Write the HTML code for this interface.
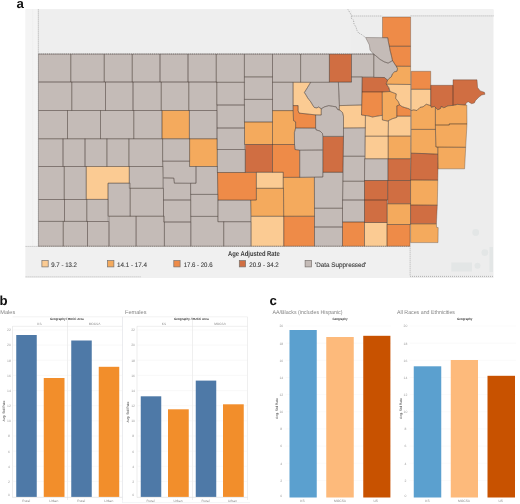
<!DOCTYPE html>
<html><head><meta charset="utf-8"><title>Figure</title>
<style>
html,body{margin:0;padding:0;background:#fff;}
body{width:520px;height:504px;overflow:hidden;font-family:"Liberation Sans",sans-serif;}
svg{display:block;font-family:"Liberation Sans",sans-serif;}
text{text-rendering:geometricPrecision;}
</style></head><body>
<svg width="520" height="504" viewBox="0 0 520 504">
<defs><filter id="idf" x="0" y="0" width="520" height="504" filterUnits="userSpaceOnUse"><feOffset dx="0" dy="0"/></filter></defs>
<rect width="520" height="504" fill="#fff"/>
<g filter="url(#idf)">
<g id="map">
<rect x="25.6" y="9.4" width="467.9" height="268.6" fill="#ededed"/>
<rect x="25.6" y="9.4" width="12.7" height="237" fill="#f4f4f4"/>
<rect x="38.3" y="9.4" width="313" height="44.6" fill="#eeeeee"/>
<rect x="352" y="9.4" width="141.5" height="6.6" fill="#f1f1f1"/>
<rect x="25.6" y="246.4" width="384.4" height="31.6" fill="#f0f0f0"/>

<path d="M38.50 54.00 L70.75 54.00 L70.75 82.00 L38.50 82.00Z" fill="#c4bbb7"/><path d="M70.75 54.00 L104.25 54.00 L104.25 82.00 L70.75 82.00Z" fill="#c4bbb7"/><path d="M104.25 54.00 L132.25 54.00 L132.25 82.00 L104.25 82.00Z" fill="#c4bbb7"/><path d="M132.25 54.00 L160.00 54.00 L160.00 82.00 L132.25 82.00Z" fill="#c4bbb7"/><path d="M160.00 54.00 L188.00 54.00 L188.00 82.00 L160.00 82.00Z" fill="#c4bbb7"/><path d="M188.00 54.00 L216.25 54.00 L216.25 82.00 L188.00 82.00Z" fill="#c4bbb7"/><path d="M216.25 54.00 L244.40 54.00 L244.40 82.30 L216.25 82.30Z" fill="#c4bbb7"/><path d="M244.40 54.00 L272.50 54.00 L272.50 76.90 L244.40 76.90Z" fill="#c4bbb7"/><path d="M272.50 54.00 L300.60 54.00 L300.60 82.25 L272.50 82.25Z" fill="#c4bbb7"/><path d="M300.60 54.00 L329.40 54.00 L329.40 82.25 L300.60 82.25Z" fill="#c4bbb7"/><path d="M329.40 54.00 L351.50 54.00 L351.50 82.10 L329.40 82.10Z" fill="#d06e42"/><path d="M351.50 54.00 L373.75 54.00 L373.75 76.90 L351.50 76.90Z" fill="#c4bbb7"/><path d="M38.50 82.00 L71.75 82.00 L71.75 110.50 L38.50 110.50Z" fill="#c4bbb7"/><path d="M71.75 82.00 L105.50 82.00 L105.50 110.50 L71.75 110.50Z" fill="#c4bbb7"/><path d="M105.50 82.00 L133.00 82.00 L133.00 110.50 L105.50 110.50Z" fill="#c4bbb7"/><path d="M133.00 82.00 L161.25 82.00 L161.25 110.50 L133.00 110.50Z" fill="#c4bbb7"/><path d="M161.25 82.00 L188.75 82.00 L188.75 110.50 L161.25 110.50Z" fill="#c4bbb7"/><path d="M188.75 82.00 L216.75 82.00 L216.75 110.50 L188.75 110.50Z" fill="#c4bbb7"/><path d="M216.75 82.30 L244.40 82.30 L244.40 105.00 L216.75 105.00Z" fill="#c4bbb7"/><path d="M244.40 76.90 L272.50 76.90 L272.50 99.40 L244.40 99.40Z" fill="#c4bbb7"/><path d="M272.50 82.25 L293.10 82.25 L293.10 110.60 L272.50 110.60Z" fill="#c4bbb7"/><path d="M38.50 110.50 L67.50 110.50 L67.50 138.75 L38.50 138.75Z" fill="#c4bbb7"/><path d="M67.50 110.50 L100.50 110.50 L100.50 138.75 L67.50 138.75Z" fill="#c4bbb7"/><path d="M100.50 110.50 L133.75 110.50 L133.75 138.75 L100.50 138.75Z" fill="#c4bbb7"/><path d="M133.75 110.50 L162.00 110.50 L162.00 138.75 L133.75 138.75Z" fill="#c4bbb7"/><path d="M162.00 110.50 L189.40 110.50 L189.40 138.75 L162.00 138.75Z" fill="#f4aa5d"/><path d="M189.40 110.50 L217.00 110.50 L217.00 138.75 L189.40 138.75Z" fill="#c4bbb7"/><path d="M217.00 105.00 L244.50 105.00 L244.50 128.00 L217.00 128.00Z" fill="#c4bbb7"/><path d="M244.40 99.40 L272.50 99.40 L272.50 122.00 L244.40 122.00Z" fill="#c4bbb7"/><path d="M244.50 122.00 L272.50 122.00 L272.50 144.50 L244.50 144.50Z" fill="#f4aa5d"/><path d="M272.50 110.60 L293.10 110.60 L293.50 120.60 L295.60 121.90 L295.60 128.00 L294.40 132.50 L294.50 144.50 L272.50 144.50Z" fill="#f4aa5d"/><path d="M38.50 138.75 L63.00 138.75 L63.00 166.50 L38.50 166.50Z" fill="#c4bbb7"/><path d="M63.00 138.75 L85.00 138.75 L85.00 166.50 L63.00 166.50Z" fill="#c4bbb7"/><path d="M85.00 138.75 L106.90 138.75 L106.90 166.50 L85.00 166.50Z" fill="#c4bbb7"/><path d="M106.90 138.75 L128.90 138.75 L128.90 166.50 L106.90 166.50Z" fill="#c4bbb7"/><path d="M128.90 138.75 L162.60 138.75 L162.60 166.50 L128.90 166.50Z" fill="#c4bbb7"/><path d="M162.60 138.75 L189.60 138.75 L189.60 161.20 L162.60 161.20Z" fill="#c4bbb7"/><path d="M189.60 138.75 L217.30 138.75 L217.30 166.50 L189.60 166.50Z" fill="#f4aa5d"/><path d="M217.00 128.00 L244.50 128.00 L244.50 149.50 L217.00 149.50Z" fill="#c4bbb7"/><path d="M217.30 149.50 L245.30 149.50 L245.30 172.50 L217.30 172.50Z" fill="#c4bbb7"/><path d="M245.30 144.50 L272.50 144.50 L272.50 172.30 L245.30 172.30Z" fill="#d06e42"/><path d="M38.50 166.50 L64.25 166.50 L64.25 199.50 L38.50 199.50Z" fill="#c4bbb7"/><path d="M64.25 166.50 L86.25 166.50 L86.25 199.50 L64.25 199.50Z" fill="#c4bbb7"/><path d="M86.25 166.50 L129.30 166.50 L129.30 183.20 L108.00 183.20 L108.00 199.40 L86.25 199.40Z" fill="#fbcb93"/><path d="M129.30 166.50 L162.90 166.50 L162.90 188.30 L129.30 188.30Z" fill="#c4bbb7"/><path d="M162.70 161.20 L189.50 161.20 L189.50 166.50 L196.00 166.50 L196.00 183.20 L174.40 183.20 L173.80 178.10 L163.40 177.90Z" fill="#c4bbb7"/><path d="M196.00 166.50 L217.50 166.50 L217.70 194.40 L190.60 194.40 L190.60 183.30 L196.00 183.30Z" fill="#c4bbb7"/><path d="M217.50 172.50 L256.40 172.50 L256.40 200.00 L250.70 200.20 L217.90 200.10Z" fill="#ee8b48"/><path d="M256.40 172.30 L283.25 172.30 L283.25 188.30 L256.40 188.30Z" fill="#fbcb93"/><path d="M38.50 199.50 L64.50 199.50 L64.50 221.40 L38.50 221.40Z" fill="#c4bbb7"/><path d="M64.50 199.50 L86.75 199.50 L86.75 221.40 L64.50 221.40Z" fill="#c4bbb7"/><path d="M86.75 199.40 L108.20 199.40 L108.20 221.50 L86.75 221.50Z" fill="#c4bbb7"/><path d="M108.00 183.20 L130.20 183.20 L130.20 216.25 L108.00 216.25Z" fill="#c4bbb7"/><path d="M130.20 188.30 L163.50 188.30 L163.50 216.25 L130.20 216.25Z" fill="#c4bbb7"/><path d="M163.40 177.90 L173.80 178.10 L174.40 183.20 L190.60 183.40 L190.60 200.00 L163.50 200.00Z" fill="#c4bbb7"/><path d="M163.50 200.00 L190.70 200.00 L190.70 222.00 L163.50 222.00Z" fill="#c4bbb7"/><path d="M190.70 194.40 L217.90 194.40 L217.90 216.40 L190.70 216.40Z" fill="#c4bbb7"/><path d="M217.90 200.10 L250.70 200.10 L250.70 221.70 L217.90 221.70Z" fill="#c4bbb7"/><path d="M256.40 188.30 L283.50 188.30 L283.70 216.30 L251.20 216.30 L250.70 200.20 L256.40 200.00Z" fill="#f4aa5d"/><path d="M38.50 221.40 L63.25 221.40 L63.25 246.25 L38.50 246.25Z" fill="#c4bbb7"/><path d="M63.25 221.40 L87.50 221.40 L87.50 246.25 L63.25 246.25Z" fill="#c4bbb7"/><path d="M87.50 221.50 L109.00 221.50 L109.00 246.25 L87.50 246.25Z" fill="#c4bbb7"/><path d="M109.00 216.25 L136.10 216.25 L136.10 246.25 L109.00 246.25Z" fill="#c4bbb7"/><path d="M136.10 216.25 L164.40 216.25 L164.40 246.25 L136.10 246.25Z" fill="#c4bbb7"/><path d="M164.40 222.00 L190.80 222.00 L190.80 246.25 L164.40 246.25Z" fill="#c4bbb7"/><path d="M190.80 216.40 L217.90 216.40 L217.90 221.70 L223.70 221.70 L223.70 246.25 L190.80 246.25Z" fill="#c4bbb7"/><path d="M223.70 221.70 L251.00 221.70 L251.00 246.25 L223.70 246.25Z" fill="#c4bbb7"/><path d="M251.20 216.30 L283.75 216.30 L283.75 246.25 L251.20 246.25Z" fill="#fbcb93"/><path d="M283.75 216.25 L314.50 216.25 L314.50 246.25 L283.75 246.25Z" fill="#ee8b48"/><path d="M314.50 227.00 L342.50 227.00 L342.50 246.25 L314.50 246.25Z" fill="#c4bbb7"/><path d="M342.50 222.00 L364.50 222.00 L364.50 246.25 L342.50 246.25Z" fill="#ee8b48"/><path d="M364.50 222.50 L387.00 222.50 L387.00 246.25 L364.50 246.25Z" fill="#fbcb93"/><path d="M387.00 224.50 L410.00 224.50 L410.00 246.25 L387.00 246.25Z" fill="#ee8b48"/><path d="M272.50 144.50 L294.50 144.50 L295.00 149.50 L299.70 150.20 L299.70 177.40 L283.25 177.40 L283.25 172.30 L272.50 172.30Z" fill="#ee8b48"/><path d="M283.25 177.40 L314.40 177.20 L314.50 216.25 L283.70 216.30 L283.50 188.30 L283.25 188.30Z" fill="#f4aa5d"/><path d="M314.40 177.20 L322.80 177.00 L322.90 172.30 L342.90 172.30 L342.50 208.25 L314.50 208.25Z" fill="#c4bbb7"/><path d="M314.50 208.25 L342.50 208.25 L342.50 227.00 L314.50 227.00Z" fill="#c4bbb7"/><path d="M342.90 181.25 L364.50 181.25 L364.50 200.00 L342.60 200.00Z" fill="#c4bbb7"/><path d="M342.50 200.00 L364.50 200.00 L364.50 222.00 L342.50 222.00Z" fill="#c4bbb7"/><path d="M343.30 156.25 L364.80 156.25 L364.50 181.25 L342.90 181.25Z" fill="#c4bbb7"/><path d="M343.50 128.00 L365.40 127.80 L365.20 136.20 L364.80 156.25 L343.30 156.25Z" fill="#c4bbb7"/><path d="M323.00 136.40 L343.50 136.40 L342.90 172.30 L322.90 172.30Z" fill="#d06e42"/><path d="M299.70 150.20 L322.60 150.00 L322.80 177.00 L299.70 177.40Z" fill="#c4bbb7"/><path d="M295.60 128.00 L315.60 128.10 L316.25 130.00 L320.00 131.00 L322.50 133.50 L322.60 150.00 L299.70 150.20 L295.00 149.50 L294.50 144.50 L294.40 132.50Z" fill="#c4bbb7"/><path d="M321.25 108.75 L324.40 106.90 L328.75 105.60 L332.50 106.25 L336.25 106.90 L337.50 109.40 L340.00 110.20 L342.50 112.50 L343.50 116.25 L343.50 136.40 L323.00 136.40 L322.50 133.50 L320.00 131.00 L316.25 130.00 L315.60 128.10 L315.60 114.90 L321.25 115.00Z" fill="#c4bbb7"/><path d="M364.50 158.75 L387.70 158.75 L387.70 180.50 L364.50 180.50Z" fill="#c4bbb7"/><path d="M365.20 136.20 L388.20 136.20 L388.20 158.75 L365.20 158.75Z" fill="#fbcb93"/><path d="M364.50 180.50 L387.60 180.50 L387.60 200.00 L364.50 200.00Z" fill="#d06e42"/><path d="M364.50 200.00 L387.10 200.00 L387.10 222.50 L364.50 222.50Z" fill="#d06e42"/><path d="M387.70 180.50 L410.50 180.50 L410.50 203.75 L387.70 203.75Z" fill="#d06e42"/><path d="M388.00 158.70 L410.50 158.70 L410.50 180.50 L388.00 180.50Z" fill="#d06e42"/><path d="M388.20 136.10 L410.60 136.10 L410.60 158.70 L388.20 158.70Z" fill="#f4aa5d"/><path d="M387.30 203.75 L410.50 203.75 L410.50 224.50 L387.30 224.50Z" fill="#f4aa5d"/><path d="M293.10 82.25 L310.60 82.40 L307.50 87.50 L304.40 92.50 L306.30 95.50 L308.10 98.75 L310.00 100.60 L313.10 105.80 L314.40 107.50 L316.90 107.90 L318.50 107.00 L321.25 108.75 L321.25 115.00 L315.60 114.90 L299.00 113.10 L298.10 110.60 L298.10 105.60 L293.10 105.60Z" fill="#fbcb93"/><path d="M293.10 105.60 L298.10 105.60 L298.10 110.60 L299.00 113.10 L315.60 114.90 L315.60 128.10 L295.60 128.00 L295.60 121.90 L293.50 120.60Z" fill="#ee8b48"/><path d="M310.60 82.40 L338.40 82.25 L339.40 105.60 L339.20 110.00 L337.50 109.40 L336.25 106.90 L332.50 106.25 L328.75 105.60 L324.40 106.90 L321.25 108.75 L318.50 107.00 L316.90 107.90 L314.40 107.50 L313.10 105.80 L310.00 100.60 L308.10 98.75 L306.30 95.50 L304.40 92.50 L307.50 87.50 L310.60 82.40Z" fill="#c4bbb7"/><path d="M338.40 82.25 L351.50 82.10 L351.50 76.90 L362.20 76.90 L362.00 91.90 L361.70 105.00 L339.40 105.60Z" fill="#c4bbb7"/><path d="M339.40 105.60 L361.70 105.00 L361.50 115.00 L365.40 115.60 L365.40 127.80 L343.50 128.00 L343.50 116.25 L342.50 112.50 L340.00 110.20 L339.20 110.00Z" fill="#fbcb93"/><path d="M373.75 54.40 L375.60 55.60 L380.00 59.40 L384.40 61.90 L388.10 63.10 L391.20 61.40 L392.50 60.50 L393.75 62.50 L396.25 66.25 L397.50 68.75 L396.90 71.25 L394.40 71.90 L392.50 73.75 L391.25 76.90 L388.75 78.75 L387.60 80.20 L384.40 77.50 L373.75 77.30Z" fill="#c4bbb7"/><path d="M362.20 77.30 L384.40 77.50 L387.60 80.20 L386.25 83.75 L388.75 87.50 L390.00 91.50 L382.20 91.90 L362.00 91.90Z" fill="#d06e42"/><path d="M362.00 91.90 L382.20 91.90 L382.30 115.30 L378.00 116.00 L372.50 117.00 L368.00 115.80 L361.50 115.00Z" fill="#ee8b48"/><path d="M382.20 91.90 L390.00 91.50 L393.00 92.60 L396.25 93.90 L395.60 98.25 L398.40 101.80 L399.60 104.80 L396.80 105.90 L396.80 117.40 L392.50 118.70 L387.50 121.00 L382.40 120.00Z" fill="#f4aa5d"/><path d="M396.80 105.90 L399.60 104.80 L402.00 106.60 L405.00 107.60 L409.40 108.90 L410.60 110.30 L410.60 116.20 L396.80 116.20Z" fill="#ee8b48"/><path d="M365.40 115.60 L368.00 115.80 L372.50 117.00 L378.00 116.00 L382.30 115.30 L382.40 120.00 L387.50 121.00 L388.40 120.80 L388.20 136.20 L365.20 136.20Z" fill="#fbcb93"/><path d="M388.40 120.80 L392.50 118.70 L396.80 117.40 L396.80 116.20 L410.60 116.20 L410.60 136.10 L388.20 136.10Z" fill="#fbcb93"/><path d="M365.60 37.50 L387.75 37.75 L388.50 42.50 L389.40 46.25 L390.00 50.00 L391.25 55.00 L392.50 60.50 L391.20 61.40 L388.10 63.10 L384.40 61.90 L380.00 59.40 L375.60 55.60 L373.75 54.40 L372.50 53.10 L370.00 50.00 L369.40 45.00 L367.50 41.25Z" fill="#c4bbb7"/><path d="M382.50 17.00 L410.60 17.00 L410.60 46.25 L389.40 46.25 L388.50 42.50 L387.75 37.75 L382.50 37.60Z" fill="#ee8b48"/><path d="M389.40 46.25 L410.60 46.25 L410.60 66.30 L396.25 66.25 L393.75 62.50 L392.50 60.50 L391.25 55.00 L390.00 50.00Z" fill="#ee8b48"/><path d="M396.25 66.25 L410.60 66.30 L410.60 84.50 L386.40 84.20 L386.25 83.75 L387.60 80.20 L388.75 78.75 L391.25 76.90 L392.50 73.75 L394.40 71.90 L396.90 71.25 L397.50 68.75Z" fill="#f4aa5d"/><path d="M386.40 84.20 L410.60 84.50 L410.60 110.30 L409.40 108.90 L405.00 107.60 L402.00 106.60 L399.60 104.80 L398.40 101.80 L395.60 98.25 L396.25 93.90 L393.00 92.60 L390.00 91.50 L388.75 87.50Z" fill="#fbcb93"/><path d="M411.30 71.30 L430.70 71.30 L430.70 89.30 L411.30 89.30Z" fill="#ee8b48"/><path d="M411.30 89.30 L430.70 89.30 L430.70 105.60 L426.25 104.25 L423.10 106.75 L420.00 107.40 L416.90 110.50 L413.75 109.90 L411.30 110.50Z" fill="#fbcb93"/><path d="M430.70 85.30 L453.00 85.30 L453.00 105.40 L447.90 105.80 L443.90 107.80 L441.20 106.40 L440.50 108.50 L437.80 109.80 L434.40 106.40 L431.40 107.40 L430.70 105.60Z" fill="#d06e42"/><path d="M453.00 79.80 L477.00 79.80 L477.60 87.50 L480.30 90.90 L484.40 92.30 L485.00 94.30 L481.70 95.00 L479.00 97.00 L475.60 100.40 L474.30 103.00 L471.60 103.70 L468.20 101.70 L466.20 103.00 L465.50 105.00 L457.40 104.40 L453.00 105.40Z" fill="#d06e42"/><path d="M411.30 110.50 L413.75 109.90 L416.90 110.50 L420.00 107.40 L423.10 106.75 L426.25 104.25 L430.70 105.60 L431.40 107.40 L434.40 106.40 L435.40 107.50 L435.40 129.40 L411.30 129.40Z" fill="#f4aa5d"/><path d="M435.40 107.50 L437.80 109.80 L440.50 108.50 L441.20 106.40 L443.90 107.80 L447.90 105.80 L453.00 105.40 L457.40 104.40 L465.50 105.00 L466.80 105.00 L467.00 123.90 L449.30 123.90 L449.30 125.00 L435.40 125.00Z" fill="#f4aa5d"/><path d="M435.40 125.00 L449.30 125.00 L449.30 123.90 L467.00 123.90 L465.70 147.30 L437.80 147.10 L435.90 147.00Z" fill="#f4aa5d"/><path d="M437.80 147.10 L465.70 147.30 L464.60 168.80 L438.00 168.80Z" fill="#f4aa5d"/><path d="M411.30 129.40 L435.40 129.40 L435.90 147.00 L437.80 147.10 L437.80 154.20 L425.00 153.60 L411.10 153.20Z" fill="#f4aa5d"/><path d="M411.10 153.20 L425.00 153.60 L437.80 154.20 L438.00 168.80 L437.80 180.20 L410.60 180.00Z" fill="#d06e42"/><path d="M410.60 180.00 L437.80 180.20 L437.30 205.20 L410.60 205.00Z" fill="#f4aa5d"/><path d="M410.60 205.00 L437.30 205.20 L436.40 223.80 L410.60 223.80Z" fill="#d06e42"/><path d="M410.60 223.80 L436.40 223.80 L436.60 227.40 L438.20 227.60 L438.00 242.60 L410.60 242.60Z" fill="#f4aa5d"/>
<g fill="none" stroke="#3c2f2a" stroke-opacity="0.42" stroke-width="0.75" stroke-linejoin="round"><path d="M38.50 54.00 L70.75 54.00 L70.75 82.00 L38.50 82.00Z"/><path d="M70.75 54.00 L104.25 54.00 L104.25 82.00 L70.75 82.00Z"/><path d="M104.25 54.00 L132.25 54.00 L132.25 82.00 L104.25 82.00Z"/><path d="M132.25 54.00 L160.00 54.00 L160.00 82.00 L132.25 82.00Z"/><path d="M160.00 54.00 L188.00 54.00 L188.00 82.00 L160.00 82.00Z"/><path d="M188.00 54.00 L216.25 54.00 L216.25 82.00 L188.00 82.00Z"/><path d="M216.25 54.00 L244.40 54.00 L244.40 82.30 L216.25 82.30Z"/><path d="M244.40 54.00 L272.50 54.00 L272.50 76.90 L244.40 76.90Z"/><path d="M272.50 54.00 L300.60 54.00 L300.60 82.25 L272.50 82.25Z"/><path d="M300.60 54.00 L329.40 54.00 L329.40 82.25 L300.60 82.25Z"/><path d="M329.40 54.00 L351.50 54.00 L351.50 82.10 L329.40 82.10Z"/><path d="M351.50 54.00 L373.75 54.00 L373.75 76.90 L351.50 76.90Z"/><path d="M38.50 82.00 L71.75 82.00 L71.75 110.50 L38.50 110.50Z"/><path d="M71.75 82.00 L105.50 82.00 L105.50 110.50 L71.75 110.50Z"/><path d="M105.50 82.00 L133.00 82.00 L133.00 110.50 L105.50 110.50Z"/><path d="M133.00 82.00 L161.25 82.00 L161.25 110.50 L133.00 110.50Z"/><path d="M161.25 82.00 L188.75 82.00 L188.75 110.50 L161.25 110.50Z"/><path d="M188.75 82.00 L216.75 82.00 L216.75 110.50 L188.75 110.50Z"/><path d="M216.75 82.30 L244.40 82.30 L244.40 105.00 L216.75 105.00Z"/><path d="M244.40 76.90 L272.50 76.90 L272.50 99.40 L244.40 99.40Z"/><path d="M272.50 82.25 L293.10 82.25 L293.10 110.60 L272.50 110.60Z"/><path d="M38.50 110.50 L67.50 110.50 L67.50 138.75 L38.50 138.75Z"/><path d="M67.50 110.50 L100.50 110.50 L100.50 138.75 L67.50 138.75Z"/><path d="M100.50 110.50 L133.75 110.50 L133.75 138.75 L100.50 138.75Z"/><path d="M133.75 110.50 L162.00 110.50 L162.00 138.75 L133.75 138.75Z"/><path d="M162.00 110.50 L189.40 110.50 L189.40 138.75 L162.00 138.75Z"/><path d="M189.40 110.50 L217.00 110.50 L217.00 138.75 L189.40 138.75Z"/><path d="M217.00 105.00 L244.50 105.00 L244.50 128.00 L217.00 128.00Z"/><path d="M244.40 99.40 L272.50 99.40 L272.50 122.00 L244.40 122.00Z"/><path d="M244.50 122.00 L272.50 122.00 L272.50 144.50 L244.50 144.50Z"/><path d="M272.50 110.60 L293.10 110.60 L293.50 120.60 L295.60 121.90 L295.60 128.00 L294.40 132.50 L294.50 144.50 L272.50 144.50Z"/><path d="M38.50 138.75 L63.00 138.75 L63.00 166.50 L38.50 166.50Z"/><path d="M63.00 138.75 L85.00 138.75 L85.00 166.50 L63.00 166.50Z"/><path d="M85.00 138.75 L106.90 138.75 L106.90 166.50 L85.00 166.50Z"/><path d="M106.90 138.75 L128.90 138.75 L128.90 166.50 L106.90 166.50Z"/><path d="M128.90 138.75 L162.60 138.75 L162.60 166.50 L128.90 166.50Z"/><path d="M162.60 138.75 L189.60 138.75 L189.60 161.20 L162.60 161.20Z"/><path d="M189.60 138.75 L217.30 138.75 L217.30 166.50 L189.60 166.50Z"/><path d="M217.00 128.00 L244.50 128.00 L244.50 149.50 L217.00 149.50Z"/><path d="M217.30 149.50 L245.30 149.50 L245.30 172.50 L217.30 172.50Z"/><path d="M245.30 144.50 L272.50 144.50 L272.50 172.30 L245.30 172.30Z"/><path d="M38.50 166.50 L64.25 166.50 L64.25 199.50 L38.50 199.50Z"/><path d="M64.25 166.50 L86.25 166.50 L86.25 199.50 L64.25 199.50Z"/><path d="M86.25 166.50 L129.30 166.50 L129.30 183.20 L108.00 183.20 L108.00 199.40 L86.25 199.40Z"/><path d="M129.30 166.50 L162.90 166.50 L162.90 188.30 L129.30 188.30Z"/><path d="M162.70 161.20 L189.50 161.20 L189.50 166.50 L196.00 166.50 L196.00 183.20 L174.40 183.20 L173.80 178.10 L163.40 177.90Z"/><path d="M196.00 166.50 L217.50 166.50 L217.70 194.40 L190.60 194.40 L190.60 183.30 L196.00 183.30Z"/><path d="M217.50 172.50 L256.40 172.50 L256.40 200.00 L250.70 200.20 L217.90 200.10Z"/><path d="M256.40 172.30 L283.25 172.30 L283.25 188.30 L256.40 188.30Z"/><path d="M38.50 199.50 L64.50 199.50 L64.50 221.40 L38.50 221.40Z"/><path d="M64.50 199.50 L86.75 199.50 L86.75 221.40 L64.50 221.40Z"/><path d="M86.75 199.40 L108.20 199.40 L108.20 221.50 L86.75 221.50Z"/><path d="M108.00 183.20 L130.20 183.20 L130.20 216.25 L108.00 216.25Z"/><path d="M130.20 188.30 L163.50 188.30 L163.50 216.25 L130.20 216.25Z"/><path d="M163.40 177.90 L173.80 178.10 L174.40 183.20 L190.60 183.40 L190.60 200.00 L163.50 200.00Z"/><path d="M163.50 200.00 L190.70 200.00 L190.70 222.00 L163.50 222.00Z"/><path d="M190.70 194.40 L217.90 194.40 L217.90 216.40 L190.70 216.40Z"/><path d="M217.90 200.10 L250.70 200.10 L250.70 221.70 L217.90 221.70Z"/><path d="M256.40 188.30 L283.50 188.30 L283.70 216.30 L251.20 216.30 L250.70 200.20 L256.40 200.00Z"/><path d="M38.50 221.40 L63.25 221.40 L63.25 246.25 L38.50 246.25Z"/><path d="M63.25 221.40 L87.50 221.40 L87.50 246.25 L63.25 246.25Z"/><path d="M87.50 221.50 L109.00 221.50 L109.00 246.25 L87.50 246.25Z"/><path d="M109.00 216.25 L136.10 216.25 L136.10 246.25 L109.00 246.25Z"/><path d="M136.10 216.25 L164.40 216.25 L164.40 246.25 L136.10 246.25Z"/><path d="M164.40 222.00 L190.80 222.00 L190.80 246.25 L164.40 246.25Z"/><path d="M190.80 216.40 L217.90 216.40 L217.90 221.70 L223.70 221.70 L223.70 246.25 L190.80 246.25Z"/><path d="M223.70 221.70 L251.00 221.70 L251.00 246.25 L223.70 246.25Z"/><path d="M251.20 216.30 L283.75 216.30 L283.75 246.25 L251.20 246.25Z"/><path d="M283.75 216.25 L314.50 216.25 L314.50 246.25 L283.75 246.25Z"/><path d="M314.50 227.00 L342.50 227.00 L342.50 246.25 L314.50 246.25Z"/><path d="M342.50 222.00 L364.50 222.00 L364.50 246.25 L342.50 246.25Z"/><path d="M364.50 222.50 L387.00 222.50 L387.00 246.25 L364.50 246.25Z"/><path d="M387.00 224.50 L410.00 224.50 L410.00 246.25 L387.00 246.25Z"/><path d="M272.50 144.50 L294.50 144.50 L295.00 149.50 L299.70 150.20 L299.70 177.40 L283.25 177.40 L283.25 172.30 L272.50 172.30Z"/><path d="M283.25 177.40 L314.40 177.20 L314.50 216.25 L283.70 216.30 L283.50 188.30 L283.25 188.30Z"/><path d="M314.40 177.20 L322.80 177.00 L322.90 172.30 L342.90 172.30 L342.50 208.25 L314.50 208.25Z"/><path d="M314.50 208.25 L342.50 208.25 L342.50 227.00 L314.50 227.00Z"/><path d="M342.90 181.25 L364.50 181.25 L364.50 200.00 L342.60 200.00Z"/><path d="M342.50 200.00 L364.50 200.00 L364.50 222.00 L342.50 222.00Z"/><path d="M343.30 156.25 L364.80 156.25 L364.50 181.25 L342.90 181.25Z"/><path d="M343.50 128.00 L365.40 127.80 L365.20 136.20 L364.80 156.25 L343.30 156.25Z"/><path d="M323.00 136.40 L343.50 136.40 L342.90 172.30 L322.90 172.30Z"/><path d="M299.70 150.20 L322.60 150.00 L322.80 177.00 L299.70 177.40Z"/><path d="M295.60 128.00 L315.60 128.10 L316.25 130.00 L320.00 131.00 L322.50 133.50 L322.60 150.00 L299.70 150.20 L295.00 149.50 L294.50 144.50 L294.40 132.50Z"/><path d="M321.25 108.75 L324.40 106.90 L328.75 105.60 L332.50 106.25 L336.25 106.90 L337.50 109.40 L340.00 110.20 L342.50 112.50 L343.50 116.25 L343.50 136.40 L323.00 136.40 L322.50 133.50 L320.00 131.00 L316.25 130.00 L315.60 128.10 L315.60 114.90 L321.25 115.00Z"/><path d="M364.50 158.75 L387.70 158.75 L387.70 180.50 L364.50 180.50Z"/><path d="M365.20 136.20 L388.20 136.20 L388.20 158.75 L365.20 158.75Z"/><path d="M364.50 180.50 L387.60 180.50 L387.60 200.00 L364.50 200.00Z"/><path d="M364.50 200.00 L387.10 200.00 L387.10 222.50 L364.50 222.50Z"/><path d="M387.70 180.50 L410.50 180.50 L410.50 203.75 L387.70 203.75Z"/><path d="M388.00 158.70 L410.50 158.70 L410.50 180.50 L388.00 180.50Z"/><path d="M388.20 136.10 L410.60 136.10 L410.60 158.70 L388.20 158.70Z"/><path d="M387.30 203.75 L410.50 203.75 L410.50 224.50 L387.30 224.50Z"/><path d="M293.10 82.25 L310.60 82.40 L307.50 87.50 L304.40 92.50 L306.30 95.50 L308.10 98.75 L310.00 100.60 L313.10 105.80 L314.40 107.50 L316.90 107.90 L318.50 107.00 L321.25 108.75 L321.25 115.00 L315.60 114.90 L299.00 113.10 L298.10 110.60 L298.10 105.60 L293.10 105.60Z"/><path d="M293.10 105.60 L298.10 105.60 L298.10 110.60 L299.00 113.10 L315.60 114.90 L315.60 128.10 L295.60 128.00 L295.60 121.90 L293.50 120.60Z"/><path d="M310.60 82.40 L338.40 82.25 L339.40 105.60 L339.20 110.00 L337.50 109.40 L336.25 106.90 L332.50 106.25 L328.75 105.60 L324.40 106.90 L321.25 108.75 L318.50 107.00 L316.90 107.90 L314.40 107.50 L313.10 105.80 L310.00 100.60 L308.10 98.75 L306.30 95.50 L304.40 92.50 L307.50 87.50 L310.60 82.40Z"/><path d="M338.40 82.25 L351.50 82.10 L351.50 76.90 L362.20 76.90 L362.00 91.90 L361.70 105.00 L339.40 105.60Z"/><path d="M339.40 105.60 L361.70 105.00 L361.50 115.00 L365.40 115.60 L365.40 127.80 L343.50 128.00 L343.50 116.25 L342.50 112.50 L340.00 110.20 L339.20 110.00Z"/><path d="M373.75 54.40 L375.60 55.60 L380.00 59.40 L384.40 61.90 L388.10 63.10 L391.20 61.40 L392.50 60.50 L393.75 62.50 L396.25 66.25 L397.50 68.75 L396.90 71.25 L394.40 71.90 L392.50 73.75 L391.25 76.90 L388.75 78.75 L387.60 80.20 L384.40 77.50 L373.75 77.30Z"/><path d="M362.20 77.30 L384.40 77.50 L387.60 80.20 L386.25 83.75 L388.75 87.50 L390.00 91.50 L382.20 91.90 L362.00 91.90Z"/><path d="M362.00 91.90 L382.20 91.90 L382.30 115.30 L378.00 116.00 L372.50 117.00 L368.00 115.80 L361.50 115.00Z"/><path d="M382.20 91.90 L390.00 91.50 L393.00 92.60 L396.25 93.90 L395.60 98.25 L398.40 101.80 L399.60 104.80 L396.80 105.90 L396.80 117.40 L392.50 118.70 L387.50 121.00 L382.40 120.00Z"/><path d="M396.80 105.90 L399.60 104.80 L402.00 106.60 L405.00 107.60 L409.40 108.90 L410.60 110.30 L410.60 116.20 L396.80 116.20Z"/><path d="M365.40 115.60 L368.00 115.80 L372.50 117.00 L378.00 116.00 L382.30 115.30 L382.40 120.00 L387.50 121.00 L388.40 120.80 L388.20 136.20 L365.20 136.20Z"/><path d="M388.40 120.80 L392.50 118.70 L396.80 117.40 L396.80 116.20 L410.60 116.20 L410.60 136.10 L388.20 136.10Z"/><path d="M365.60 37.50 L387.75 37.75 L388.50 42.50 L389.40 46.25 L390.00 50.00 L391.25 55.00 L392.50 60.50 L391.20 61.40 L388.10 63.10 L384.40 61.90 L380.00 59.40 L375.60 55.60 L373.75 54.40 L372.50 53.10 L370.00 50.00 L369.40 45.00 L367.50 41.25Z"/><path d="M382.50 17.00 L410.60 17.00 L410.60 46.25 L389.40 46.25 L388.50 42.50 L387.75 37.75 L382.50 37.60Z"/><path d="M389.40 46.25 L410.60 46.25 L410.60 66.30 L396.25 66.25 L393.75 62.50 L392.50 60.50 L391.25 55.00 L390.00 50.00Z"/><path d="M396.25 66.25 L410.60 66.30 L410.60 84.50 L386.40 84.20 L386.25 83.75 L387.60 80.20 L388.75 78.75 L391.25 76.90 L392.50 73.75 L394.40 71.90 L396.90 71.25 L397.50 68.75Z"/><path d="M386.40 84.20 L410.60 84.50 L410.60 110.30 L409.40 108.90 L405.00 107.60 L402.00 106.60 L399.60 104.80 L398.40 101.80 L395.60 98.25 L396.25 93.90 L393.00 92.60 L390.00 91.50 L388.75 87.50Z"/><path d="M411.30 71.30 L430.70 71.30 L430.70 89.30 L411.30 89.30Z"/><path d="M411.30 89.30 L430.70 89.30 L430.70 105.60 L426.25 104.25 L423.10 106.75 L420.00 107.40 L416.90 110.50 L413.75 109.90 L411.30 110.50Z"/><path d="M430.70 85.30 L453.00 85.30 L453.00 105.40 L447.90 105.80 L443.90 107.80 L441.20 106.40 L440.50 108.50 L437.80 109.80 L434.40 106.40 L431.40 107.40 L430.70 105.60Z"/><path d="M453.00 79.80 L477.00 79.80 L477.60 87.50 L480.30 90.90 L484.40 92.30 L485.00 94.30 L481.70 95.00 L479.00 97.00 L475.60 100.40 L474.30 103.00 L471.60 103.70 L468.20 101.70 L466.20 103.00 L465.50 105.00 L457.40 104.40 L453.00 105.40Z"/><path d="M411.30 110.50 L413.75 109.90 L416.90 110.50 L420.00 107.40 L423.10 106.75 L426.25 104.25 L430.70 105.60 L431.40 107.40 L434.40 106.40 L435.40 107.50 L435.40 129.40 L411.30 129.40Z"/><path d="M435.40 107.50 L437.80 109.80 L440.50 108.50 L441.20 106.40 L443.90 107.80 L447.90 105.80 L453.00 105.40 L457.40 104.40 L465.50 105.00 L466.80 105.00 L467.00 123.90 L449.30 123.90 L449.30 125.00 L435.40 125.00Z"/><path d="M435.40 125.00 L449.30 125.00 L449.30 123.90 L467.00 123.90 L465.70 147.30 L437.80 147.10 L435.90 147.00Z"/><path d="M437.80 147.10 L465.70 147.30 L464.60 168.80 L438.00 168.80Z"/><path d="M411.30 129.40 L435.40 129.40 L435.90 147.00 L437.80 147.10 L437.80 154.20 L425.00 153.60 L411.10 153.20Z"/><path d="M411.10 153.20 L425.00 153.60 L437.80 154.20 L438.00 168.80 L437.80 180.20 L410.60 180.00Z"/><path d="M410.60 180.00 L437.80 180.20 L437.30 205.20 L410.60 205.00Z"/><path d="M410.60 205.00 L437.30 205.20 L436.40 223.80 L410.60 223.80Z"/><path d="M410.60 223.80 L436.40 223.80 L436.60 227.40 L438.20 227.60 L438.00 242.60 L410.60 242.60Z"/></g>
<g fill="#e3e6e6"><circle cx="475.7" cy="232.5" r="3.4"/><rect x="451.3" y="262.5" width="20.7" height="9"/><circle cx="477.5" cy="265.8" r="3"/><circle cx="484.8" cy="252.7" r="3.4"/><rect x="489.4" y="247" width="3.6" height="25"/></g>
<path d="M38.3 9.4V246.3" fill="none" stroke="#8d8d8d" stroke-width="0.7" stroke-dasharray="1 1"/><path d="M25.6 246.4H38.5" fill="none" stroke="#9a9a9a" stroke-width="0.7" stroke-dasharray="1 1"/><path d="M38.5 54H373.7" fill="none" stroke="#6f6a68" stroke-width="0.8" stroke-dasharray="1.2 0.9"/><path d="M38.5 246.3H410" fill="none" stroke="#77706c" stroke-width="0.6" stroke-dasharray="1.2 0.9"/><path d="M347.9 9.4 L349.5 12 L351.7 15.6 L351 18 L353.5 20 L354 24 L356 27 L357 30.5 L358.5 32.9 L361.5 34.5 L363.5 36 L365.6 37.5" fill="none" stroke="#909090" stroke-width="0.7" stroke-dasharray="1 1"/><path d="M351.7 16H382.2" fill="none" stroke="#909090" stroke-width="0.7" stroke-dasharray="1 1"/><path d="M410.6 15.9H493.5" fill="none" stroke="#909090" stroke-width="0.7" stroke-dasharray="1 1"/><path d="M410.1 246.3V276.4H493.5" fill="none" stroke="#9a9a9a" stroke-width="0.7" stroke-dasharray="1 1"/><path d="M25.6 276.8H141" fill="none" stroke="#a8a8a8" stroke-width="0.7" stroke-dasharray="1 1"/><path d="M32.7 9.4V246" fill="none" stroke="#e6e6e6" stroke-width="0.5" stroke-dasharray="1 1"/>
<text x="228" y="255.6" font-size="7.1" font-weight="bold" fill="#3a3a3a" textLength="51.8" lengthAdjust="spacingAndGlyphs">Age Adjusted Rate</text><rect x="41.9" y="260.6" width="6.3" height="6.3" fill="#fbcb93" stroke="#77706c" stroke-width="0.7"/><text x="51.3" y="266.7" font-size="6.6" fill="#3c3c3c" stroke="#3c3c3c" stroke-width="0.12" textLength="25.7" lengthAdjust="spacingAndGlyphs">9.7 - 13.2</text><rect x="107.6" y="260.6" width="6.3" height="6.3" fill="#f4aa5d" stroke="#77706c" stroke-width="0.7"/><text x="117" y="266.7" font-size="6.6" fill="#3c3c3c" stroke="#3c3c3c" stroke-width="0.12" textLength="30" lengthAdjust="spacingAndGlyphs">14.1 - 17.4</text><rect x="173.8" y="260.6" width="6.3" height="6.3" fill="#ee8b48" stroke="#77706c" stroke-width="0.7"/><text x="183.7" y="266.7" font-size="6.6" fill="#3c3c3c" stroke="#3c3c3c" stroke-width="0.12" textLength="28.8" lengthAdjust="spacingAndGlyphs">17.6 - 20.6</text><rect x="239.3" y="260.6" width="6.3" height="6.3" fill="#d06e42" stroke="#77706c" stroke-width="0.7"/><text x="249.3" y="266.7" font-size="6.6" fill="#3c3c3c" stroke="#3c3c3c" stroke-width="0.12" textLength="29.5" lengthAdjust="spacingAndGlyphs">20.9 - 34.2</text><rect x="305.1" y="260.6" width="6.3" height="6.3" fill="#c4bbb7" stroke="#77706c" stroke-width="0.7"/><text x="315" y="266.7" font-size="6.6" fill="#3c3c3c" stroke="#3c3c3c" stroke-width="0.12" textLength="51.2" lengthAdjust="spacingAndGlyphs">'Data Suppressed'</text>
</g>
<g id="charts">
<path d="M409.5 326.00L516 326.00" stroke="#f2f2f2" stroke-width="0.4"/><path d="M409.5 343.15L516 343.15" stroke="#f2f2f2" stroke-width="0.4"/><path d="M409.5 360.30L516 360.30" stroke="#f2f2f2" stroke-width="0.4"/><path d="M409.5 377.45L516 377.45" stroke="#f2f2f2" stroke-width="0.4"/><path d="M409.5 394.60L516 394.60" stroke="#f2f2f2" stroke-width="0.4"/><path d="M409.5 411.75L516 411.75" stroke="#f2f2f2" stroke-width="0.4"/><path d="M409.5 428.90L516 428.90" stroke="#f2f2f2" stroke-width="0.4"/><path d="M409.5 446.05L516 446.05" stroke="#f2f2f2" stroke-width="0.4"/><path d="M409.5 463.20L516 463.20" stroke="#f2f2f2" stroke-width="0.4"/><path d="M409.5 480.35L516 480.35" stroke="#f2f2f2" stroke-width="0.4"/><path d="M285.5 326.00L391 326.00" stroke="#f2f2f2" stroke-width="0.4"/><path d="M285.5 343.15L391 343.15" stroke="#f2f2f2" stroke-width="0.4"/><path d="M285.5 360.30L391 360.30" stroke="#f2f2f2" stroke-width="0.4"/><path d="M285.5 377.45L391 377.45" stroke="#f2f2f2" stroke-width="0.4"/><path d="M285.5 394.60L391 394.60" stroke="#f2f2f2" stroke-width="0.4"/><path d="M285.5 411.75L391 411.75" stroke="#f2f2f2" stroke-width="0.4"/><path d="M285.5 428.90L391 428.90" stroke="#f2f2f2" stroke-width="0.4"/><path d="M285.5 446.05L391 446.05" stroke="#f2f2f2" stroke-width="0.4"/><path d="M285.5 463.20L391 463.20" stroke="#f2f2f2" stroke-width="0.4"/><path d="M285.5 480.35L391 480.35" stroke="#f2f2f2" stroke-width="0.4"/><path d="M12.5 316.8L122.5 316.8" stroke="#e4e4e4" stroke-width="0.5"/><path d="M12.5 326.3L122.5 326.3" stroke="#dedede" stroke-width="0.5"/><path d="M12.5 326.3L12.5 497.5" stroke="#d8d8d8" stroke-width="0.5"/><path d="M67.5 316.8L67.5 500" stroke="#dedede" stroke-width="0.5"/><path d="M122.5 316.8L122.5 500" stroke="#dedede" stroke-width="0.5"/><path d="M12.5 497.3L122.5 497.3" stroke="#d0d0d0" stroke-width="0.5"/><path d="M12.5 481.45L122.5 481.45" stroke="#f1f1f1" stroke-width="0.4"/><path d="M12.5 466.3L122.5 466.3" stroke="#f1f1f1" stroke-width="0.4"/><path d="M12.5 451.15L122.5 451.15" stroke="#f1f1f1" stroke-width="0.4"/><path d="M12.5 436.0L122.5 436.0" stroke="#f1f1f1" stroke-width="0.4"/><path d="M12.5 420.85L122.5 420.85" stroke="#f1f1f1" stroke-width="0.4"/><path d="M12.5 405.7L122.5 405.7" stroke="#f1f1f1" stroke-width="0.4"/><path d="M12.5 390.55L122.5 390.55" stroke="#f1f1f1" stroke-width="0.4"/><path d="M12.5 375.4L122.5 375.4" stroke="#f1f1f1" stroke-width="0.4"/><path d="M12.5 360.25L122.5 360.25" stroke="#f1f1f1" stroke-width="0.4"/><path d="M12.5 345.1L122.5 345.1" stroke="#f1f1f1" stroke-width="0.4"/><path d="M12.5 329.95L122.5 329.95" stroke="#f1f1f1" stroke-width="0.4"/><path d="M137 316.8L247.5 316.8" stroke="#e4e4e4" stroke-width="0.5"/><path d="M137 326.3L247.5 326.3" stroke="#dedede" stroke-width="0.5"/><path d="M137 326.3L137 497.5" stroke="#d8d8d8" stroke-width="0.5"/><path d="M192.5 316.8L192.5 500" stroke="#dedede" stroke-width="0.5"/><path d="M247.5 316.8L247.5 500" stroke="#dedede" stroke-width="0.5"/><path d="M137 497.3L247.5 497.3" stroke="#d0d0d0" stroke-width="0.5"/><path d="M137 481.45L247.5 481.45" stroke="#f1f1f1" stroke-width="0.4"/><path d="M137 466.3L247.5 466.3" stroke="#f1f1f1" stroke-width="0.4"/><path d="M137 451.15L247.5 451.15" stroke="#f1f1f1" stroke-width="0.4"/><path d="M137 436.0L247.5 436.0" stroke="#f1f1f1" stroke-width="0.4"/><path d="M137 420.85L247.5 420.85" stroke="#f1f1f1" stroke-width="0.4"/><path d="M137 405.7L247.5 405.7" stroke="#f1f1f1" stroke-width="0.4"/><path d="M137 390.55L247.5 390.55" stroke="#f1f1f1" stroke-width="0.4"/><path d="M137 375.4L247.5 375.4" stroke="#f1f1f1" stroke-width="0.4"/><path d="M137 360.25L247.5 360.25" stroke="#f1f1f1" stroke-width="0.4"/><path d="M137 345.1L247.5 345.1" stroke="#f1f1f1" stroke-width="0.4"/><path d="M137 329.95L247.5 329.95" stroke="#f1f1f1" stroke-width="0.4"/><path d="M122.5 316.8L137 316.8" stroke="#e4e4e4" stroke-width="0.5"/><path d="M122.5 316.8L122.5 503" stroke="#e6e9ee" stroke-width="0.5"/><path d="M122.5 502.6L250 502.6" stroke="#e6e9ee" stroke-width="0.5"/><rect x="16.25" y="335" width="20.50" height="161.90" fill="#4e79a7"/><rect x="43.75" y="378" width="20.75" height="118.90" fill="#f28e2b"/><rect x="71.25" y="340.5" width="20.50" height="156.40" fill="#4e79a7"/><rect x="98.75" y="366.8" width="20.50" height="130.10" fill="#f28e2b"/><rect x="140.75" y="396.3" width="20.50" height="100.60" fill="#4e79a7"/><rect x="168" y="409.3" width="20.75" height="87.60" fill="#f28e2b"/><rect x="195.75" y="380.6" width="20.50" height="116.30" fill="#4e79a7"/><rect x="223" y="404.3" width="20.75" height="92.60" fill="#f28e2b"/><text x="8.9" y="496.2" font-size="3.4" fill="#9a9a9a" text-anchor="middle" >0</text><text x="8.9" y="482.95" font-size="3.4" fill="#9a9a9a" text-anchor="middle" >2</text><text x="8.9" y="467.78" font-size="3.4" fill="#9a9a9a" text-anchor="middle" >4</text><text x="8.9" y="452.6" font-size="3.4" fill="#9a9a9a" text-anchor="middle" >6</text><text x="8.9" y="437.43" font-size="3.4" fill="#9a9a9a" text-anchor="middle" >8</text><text x="8.9" y="422.25" font-size="3.4" fill="#9a9a9a" text-anchor="middle" >10</text><text x="8.9" y="407.07" font-size="3.4" fill="#9a9a9a" text-anchor="middle" >12</text><text x="8.9" y="391.9" font-size="3.4" fill="#9a9a9a" text-anchor="middle" >14</text><text x="8.9" y="376.72" font-size="3.4" fill="#9a9a9a" text-anchor="middle" >16</text><text x="8.9" y="361.55" font-size="3.4" fill="#9a9a9a" text-anchor="middle" >18</text><text x="8.9" y="346.38" font-size="3.4" fill="#9a9a9a" text-anchor="middle" >20</text><text x="8.9" y="331.2" font-size="3.4" fill="#9a9a9a" text-anchor="middle" >22</text><text x="133.1" y="496.2" font-size="3.4" fill="#9a9a9a" text-anchor="middle" >0</text><text x="133.1" y="482.95" font-size="3.4" fill="#9a9a9a" text-anchor="middle" >2</text><text x="133.1" y="467.78" font-size="3.4" fill="#9a9a9a" text-anchor="middle" >4</text><text x="133.1" y="452.6" font-size="3.4" fill="#9a9a9a" text-anchor="middle" >6</text><text x="133.1" y="437.43" font-size="3.4" fill="#9a9a9a" text-anchor="middle" >8</text><text x="133.1" y="422.25" font-size="3.4" fill="#9a9a9a" text-anchor="middle" >10</text><text x="133.1" y="407.07" font-size="3.4" fill="#9a9a9a" text-anchor="middle" >12</text><text x="133.1" y="391.9" font-size="3.4" fill="#9a9a9a" text-anchor="middle" >14</text><text x="133.1" y="376.72" font-size="3.4" fill="#9a9a9a" text-anchor="middle" >16</text><text x="133.1" y="361.55" font-size="3.4" fill="#9a9a9a" text-anchor="middle" >18</text><text x="133.1" y="346.38" font-size="3.4" fill="#9a9a9a" text-anchor="middle" >20</text><text x="133.1" y="331.2" font-size="3.4" fill="#9a9a9a" text-anchor="middle" >22</text><text x="26.25" y="501.6" font-size="3.3" fill="#8a8a8a" text-anchor="middle" >Rural</text><text x="81.25" y="501.6" font-size="3.3" fill="#8a8a8a" text-anchor="middle" >Rural</text><text x="150.5" y="501.6" font-size="3.3" fill="#8a8a8a" text-anchor="middle" >Rural</text><text x="205.5" y="501.6" font-size="3.3" fill="#8a8a8a" text-anchor="middle" >Rural</text><text x="53.75" y="501.6" font-size="3.3" fill="#8a8a8a" text-anchor="middle" >Urban</text><text x="108.75" y="501.6" font-size="3.3" fill="#8a8a8a" text-anchor="middle" >Urban</text><text x="178" y="501.6" font-size="3.3" fill="#8a8a8a" text-anchor="middle" >Urban</text><text x="232.5" y="501.6" font-size="3.3" fill="#8a8a8a" text-anchor="middle" >Urban</text><text x="39.5" y="325" font-size="3.2" fill="#8a8a8a" text-anchor="middle" >KS</text><text x="94.5" y="325" font-size="3.2" fill="#8a8a8a" text-anchor="middle" >MOCSA</text><text x="164" y="325" font-size="3.2" fill="#8a8a8a" text-anchor="middle" >KS</text><text x="220" y="325" font-size="3.2" fill="#8a8a8a" text-anchor="middle" >MOCSA</text><text x="66.9" y="320" font-size="3.1" fill="#333" text-anchor="middle" font-weight="bold" textLength="33.6" lengthAdjust="spacingAndGlyphs">Geography / RUCC Area</text><text x="191.3" y="320" font-size="3.1" fill="#333" text-anchor="middle" font-weight="bold" textLength="34.6" lengthAdjust="spacingAndGlyphs">Geography / RUCC Area</text><text x="0.3" y="313.7" font-size="5.6" fill="#858585" text-anchor="start" >Males</text><text x="125" y="313.7" font-size="5.6" fill="#858585" text-anchor="start" >Females</text><text transform="translate(5,411) rotate(-90)" font-size="3.4" fill="#333" text-anchor="middle">Avg. Std Rate</text><text transform="translate(128.7,412) rotate(-90)" font-size="3.4" fill="#333" text-anchor="middle">Avg. Std Rate</text><rect x="289.5" y="330" width="27.25" height="167.50" fill="#5ba0cf"/><rect x="326.25" y="337" width="27.50" height="160.50" fill="#fdba7b"/><rect x="363.25" y="335.8" width="27.15" height="161.70" fill="#c85200"/><rect x="413.75" y="366.3" width="27.50" height="131.20" fill="#5ba0cf"/><rect x="450.75" y="360" width="27.25" height="137.50" fill="#fdba7b"/><rect x="487.5" y="375.8" width="27.50" height="121.70" fill="#c85200"/><text x="281.3" y="496.7" font-size="3.4" fill="#9a9a9a" text-anchor="middle" >0</text><text x="281.3" y="481.71" font-size="3.4" fill="#9a9a9a" text-anchor="middle" >2</text><text x="281.3" y="464.57" font-size="3.4" fill="#9a9a9a" text-anchor="middle" >4</text><text x="281.3" y="447.43" font-size="3.4" fill="#9a9a9a" text-anchor="middle" >6</text><text x="281.3" y="430.29" font-size="3.4" fill="#9a9a9a" text-anchor="middle" >8</text><text x="281.3" y="413.15" font-size="3.4" fill="#9a9a9a" text-anchor="middle" >10</text><text x="281.3" y="396.01" font-size="3.4" fill="#9a9a9a" text-anchor="middle" >12</text><text x="281.3" y="378.87" font-size="3.4" fill="#9a9a9a" text-anchor="middle" >14</text><text x="281.3" y="361.73" font-size="3.4" fill="#9a9a9a" text-anchor="middle" >16</text><text x="281.3" y="344.59" font-size="3.4" fill="#9a9a9a" text-anchor="middle" >18</text><text x="281.3" y="327.45" font-size="3.4" fill="#9a9a9a" text-anchor="middle" >20</text><text x="405.5" y="496.7" font-size="3.4" fill="#9a9a9a" text-anchor="middle" >0</text><text x="405.5" y="481.71" font-size="3.4" fill="#9a9a9a" text-anchor="middle" >2</text><text x="405.5" y="464.57" font-size="3.4" fill="#9a9a9a" text-anchor="middle" >4</text><text x="405.5" y="447.43" font-size="3.4" fill="#9a9a9a" text-anchor="middle" >6</text><text x="405.5" y="430.29" font-size="3.4" fill="#9a9a9a" text-anchor="middle" >8</text><text x="405.5" y="413.15" font-size="3.4" fill="#9a9a9a" text-anchor="middle" >10</text><text x="405.5" y="396.01" font-size="3.4" fill="#9a9a9a" text-anchor="middle" >12</text><text x="405.5" y="378.87" font-size="3.4" fill="#9a9a9a" text-anchor="middle" >14</text><text x="405.5" y="361.73" font-size="3.4" fill="#9a9a9a" text-anchor="middle" >16</text><text x="405.5" y="344.59" font-size="3.4" fill="#9a9a9a" text-anchor="middle" >18</text><text x="405.5" y="327.45" font-size="3.4" fill="#9a9a9a" text-anchor="middle" >20</text><text x="302.5" y="501.6" font-size="3.3" fill="#8a8a8a" text-anchor="middle" >KS</text><text x="340" y="501.6" font-size="3.3" fill="#8a8a8a" text-anchor="middle" >MOCSA</text><text x="375.75" y="501.6" font-size="3.3" fill="#8a8a8a" text-anchor="middle" >US</text><text x="427.5" y="501.6" font-size="3.3" fill="#8a8a8a" text-anchor="middle" >KS</text><text x="464" y="501.6" font-size="3.3" fill="#8a8a8a" text-anchor="middle" >MOCSA</text><text x="500.75" y="501.6" font-size="3.3" fill="#8a8a8a" text-anchor="middle" >US</text><text x="340" y="320" font-size="3.1" fill="#333" text-anchor="middle" font-weight="bold" textLength="15" lengthAdjust="spacingAndGlyphs">Geography</text><text x="464.8" y="320" font-size="3.1" fill="#333" text-anchor="middle" font-weight="bold" textLength="15.4" lengthAdjust="spacingAndGlyphs">Geography</text><text x="272.5" y="313.7" font-size="5.6" fill="#858585" text-anchor="start" textLength="70" lengthAdjust="spacingAndGlyphs">AA/Blacks (includes Hispanic)</text><text x="397" y="313.7" font-size="5.6" fill="#858585" text-anchor="start" textLength="58" lengthAdjust="spacingAndGlyphs">All Races and Ethnicities</text><text transform="translate(277.5,408.5) rotate(-90)" font-size="3.4" fill="#333" text-anchor="middle">Avg. Std Rate</text><text transform="translate(401.7,408.5) rotate(-90)" font-size="3.4" fill="#333" text-anchor="middle">Avg. Std Rate</text>
</g>
<text x="16.4" y="7.6" font-size="13.2" font-weight="bold" fill="#111">a</text><text x="-0.6" y="304.6" font-size="13.2" font-weight="bold" fill="#111">b</text><text x="269.6" y="304.6" font-size="13.2" font-weight="bold" fill="#111">c</text>
</g>
</svg>
</body></html>
